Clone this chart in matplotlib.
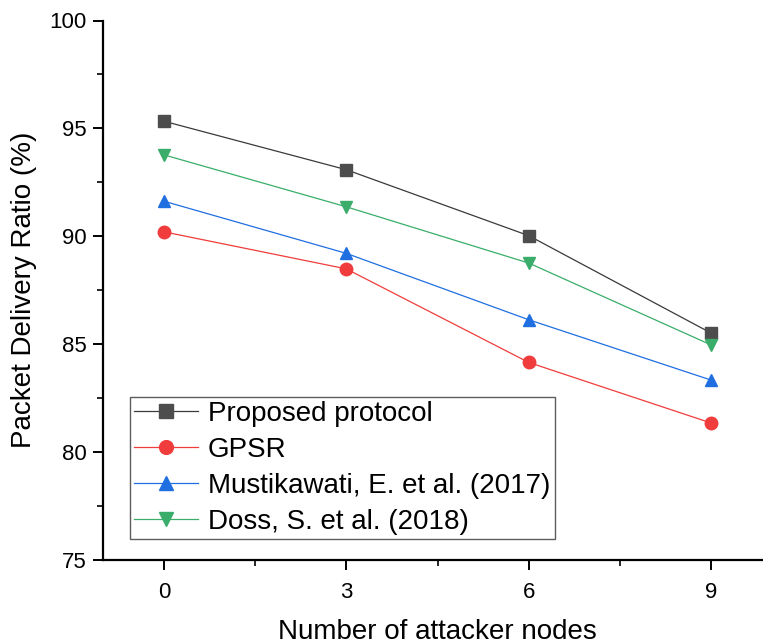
import matplotlib
matplotlib.use("Agg")
import matplotlib.pyplot as plt
from matplotlib.ticker import MultipleLocator

plt.rcParams["font.family"] = ["Liberation Sans", "DejaVu Sans"]

# data
attackers = [0, 3, 6, 9]
proposed = [95.33, 93.08, 90.02, 85.5]
gpsr = [90.2, 88.48, 84.14, 81.33]
mustikawati = [91.62, 89.2, 86.12, 83.32]
doss = [93.77, 91.36, 88.75, 84.95]

series = [
    ("Proposed protocol", proposed, "#4d4d4d", "#3a3a3a", "s"),
    ("GPSR", gpsr, "#f03c3c", "#f03c3c", "o"),
    ("Mustikawati, E. et al. (2017)", mustikawati, "#1f6fe0", "#1f6fe0", "^"),
    ("Doss, S. et al. (2018)", doss, "#3aad6a", "#3aad6a", "v"),
]

fig = plt.figure(figsize=(7.63, 6.44), dpi=100)
# axes run past the right edge of the figure, like the reference
ax = fig.add_axes([103 / 763, 84.5 / 644, 669 / 763, 539 / 644])

for name, vals, mcol, lcol, mk in series:
    ax.plot(attackers, vals, color=lcol, lw=0.9, marker=mk, markersize=9,
            markerfacecolor=mcol, markeredgecolor=mcol, label=name)

ax.set_xlim(-1, 10)
ax.set_ylim(75, 100)
ax.xaxis.set_major_locator(MultipleLocator(3))
ax.xaxis.set_minor_locator(MultipleLocator(1.5))
ax.yaxis.set_major_locator(MultipleLocator(5))
ax.yaxis.set_minor_locator(MultipleLocator(2.5))

for side in ("top", "right"):
    ax.spines[side].set_visible(False)
for side in ("left", "bottom"):
    ax.spines[side].set_linewidth(1.6)

ax.tick_params(which="major", direction="out", length=7, width=1.4, labelsize=16)
ax.tick_params(which="minor", direction="out", length=4, width=1.2)
ax.tick_params(axis="x", pad=9)
ax.tick_params(axis="y", pad=5)

ax.set_xlabel("Number of attacker nodes", fontsize=20, labelpad=12)
ax.set_ylabel("Packet Delivery Ratio (%)", fontsize=20, labelpad=9)

leg = ax.legend(loc="lower left", bbox_to_anchor=(0.040, 0.038), fontsize=20,
                frameon=True, fancybox=False, edgecolor="#333333",
                handlelength=2.3, handletextpad=0.37, borderpad=0.15,
                labelspacing=0.36, borderaxespad=0, markerscale=1.1)
leg.get_frame().set_linewidth(1.0)

fig.savefig("out.png", dpi=100)
